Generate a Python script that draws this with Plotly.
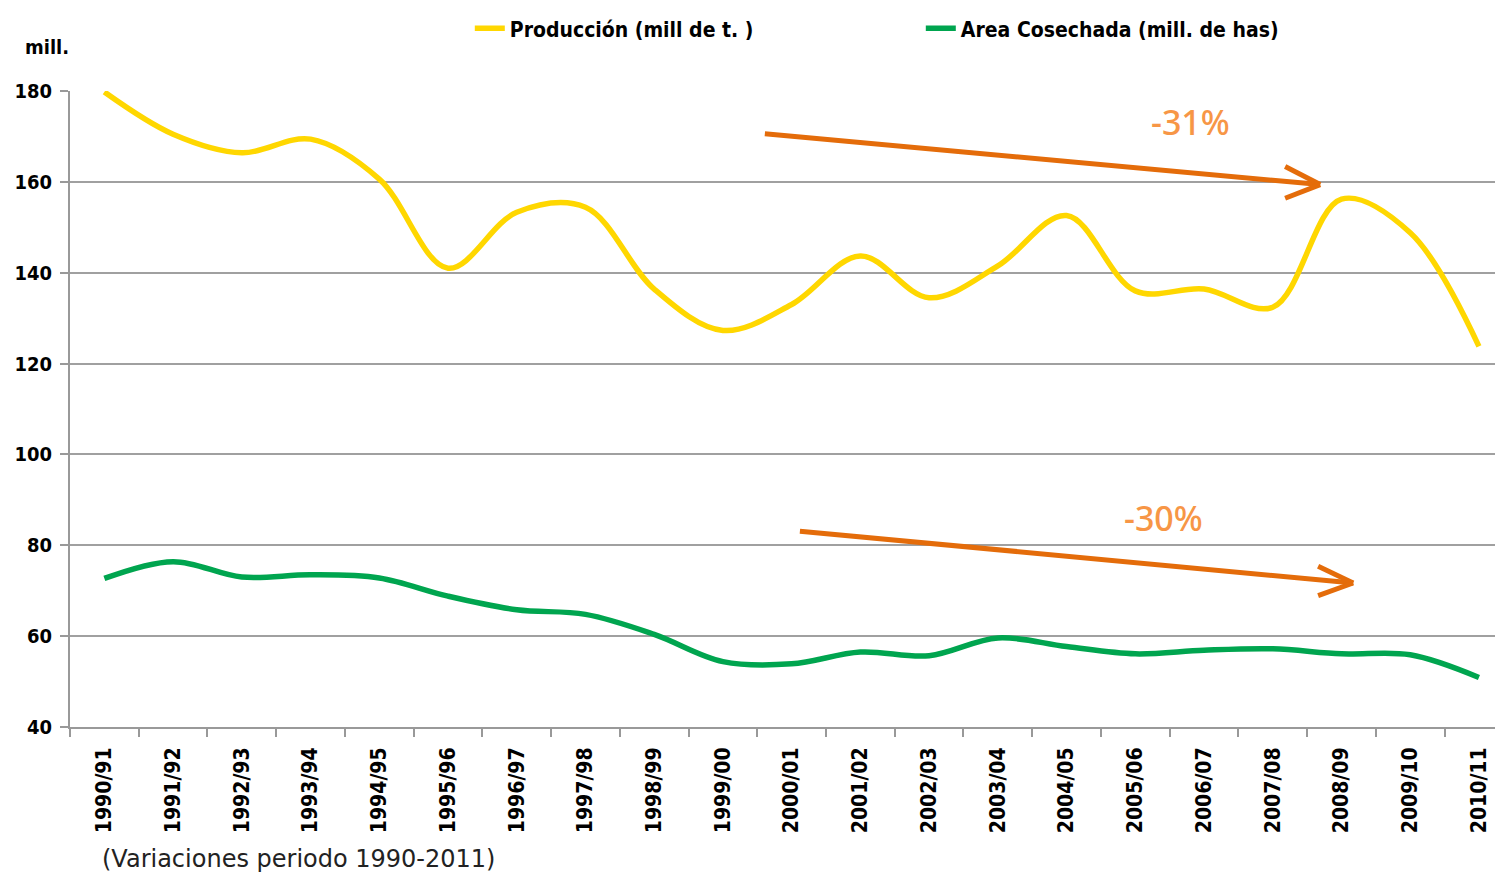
import plotly.graph_objects as go

campanas = ["1990/91", "1991/92", "1992/93", "1993/94", "1994/95", "1995/96", "1996/97",
            "1997/98", "1998/99", "1999/00", "2000/01", "2001/02", "2002/03", "2003/04",
            "2004/05", "2005/06", "2006/07", "2007/08", "2008/09", "2009/10", "2010/11"]
produccion = [179.8, 170.5, 166.4, 169.4, 160.6, 141.0, 153.3, 154.4, 136.4, 127.3,
              133.0, 143.7, 134.5, 141.5, 152.6, 136.0, 136.4, 132.4, 156.2, 148.8, 123.8]
area = [72.7, 76.4, 73.0, 73.5, 72.8, 68.8, 65.8, 64.8, 60.4, 54.4,
        53.9, 56.5, 55.7, 59.6, 57.7, 56.1, 56.9, 57.2, 56.1, 55.9, 50.9]
y_ticks = [40, 60, 80, 100, 120, 140, 160, 180]

FONT = "DejaVu Sans Condensed, Liberation Sans Narrow, DejaVu Sans, sans-serif"
ARROW = "#E46C0A"
PCT = "#F79646"

fig = go.Figure()
fig.add_trace(go.Scatter(x=campanas, y=produccion, mode="lines", name="Producción (mill de t. )",
                         line=dict(color="#FFD700", width=5.5, shape="spline", smoothing=1.0)))
fig.add_trace(go.Scatter(x=campanas, y=area, mode="lines", name="Area Cosechada (mill. de has)",
                         line=dict(color="#00A54F", width=5.5, shape="spline", smoothing=1.0)))

# arrows (decoration)
def arrow(x0, y0, x1, y1, hx, hy1, hy2):
    for (a, b, c, d) in [(x0, y0, x1, y1), (hx, hy1, x1, y1), (hx, hy2, x1, y1)]:
        fig.add_shape(type="line", xref="x", yref="y", x0=a, y0=b, x1=c, y1=d,
                      line=dict(color=ARROW, width=5), layer="above")

arrow(9.61, 170.6, 17.69, 159.4, 17.18, 163.4, 156.4)
arrow(10.12, 83.1, 18.17, 71.7, 17.66, 75.4, 68.9)

fig.add_annotation(x=15.8, y=173.2, xref="x", yref="y", text="-31%", showarrow=False,
                   font=dict(family="Noto Sans, sans-serif", size=34, color=PCT, weight=500))
fig.add_annotation(x=15.41, y=86.1, xref="x", yref="y", text="-30%", showarrow=False,
                   font=dict(family="Noto Sans, sans-serif", size=34, color=PCT, weight=500))

fig.add_annotation(x=-0.033, y=1.069, xref="paper", yref="paper", text="<b>mill.</b>",
                   showarrow=False, xanchor="left", yanchor="middle",
                   font=dict(family=FONT, size=20, color="black"))
fig.add_annotation(x=0.021, y=-0.207, xref="paper", yref="paper",
                   text="(Variaciones periodo 1990-2011)", showarrow=False,
                   xanchor="left", yanchor="middle",
                   font=dict(family="DejaVu Sans, sans-serif", size=24, color="#222222"))

fig.update_layout(
    width=1495, height=867,
    margin=dict(l=62, r=0, t=79, b=148),
    plot_bgcolor="white", paper_bgcolor="white",
    showlegend=True,
    legend=dict(orientation="h", x=0.279, y=1.098, xanchor="left", yanchor="middle",
                entrywidth=406, entrywidthmode="pixels",
                font=dict(family=FONT, size=21, color="black", weight="bold"),
                bgcolor="rgba(0,0,0,0)"),
)
fig.update_xaxes(type="category", range=[-0.5, 20.35], tickson="boundaries",
                 ticks="outside", ticklen=8, tickcolor="#999999", tickwidth=2,
                 showline=True, linecolor="#999999", linewidth=2,
                 showgrid=False, tickangle=-90, ticklabelstandoff=10,
                 tickfont=dict(family=FONT, size=21, color="black", weight="bold"))
fig.update_yaxes(range=[40, 180], tickvals=y_ticks,
                 ticks="outside", ticklen=8, tickcolor="#999999", tickwidth=2,
                 showline=True, linecolor="#999999", linewidth=2,
                 showgrid=True, gridcolor="#A0A0A0", gridwidth=2,
                 ticklabelstandoff=4,
                 tickfont=dict(family=FONT, size=20, color="black", weight="bold"))

fig.write_html("out.html")
